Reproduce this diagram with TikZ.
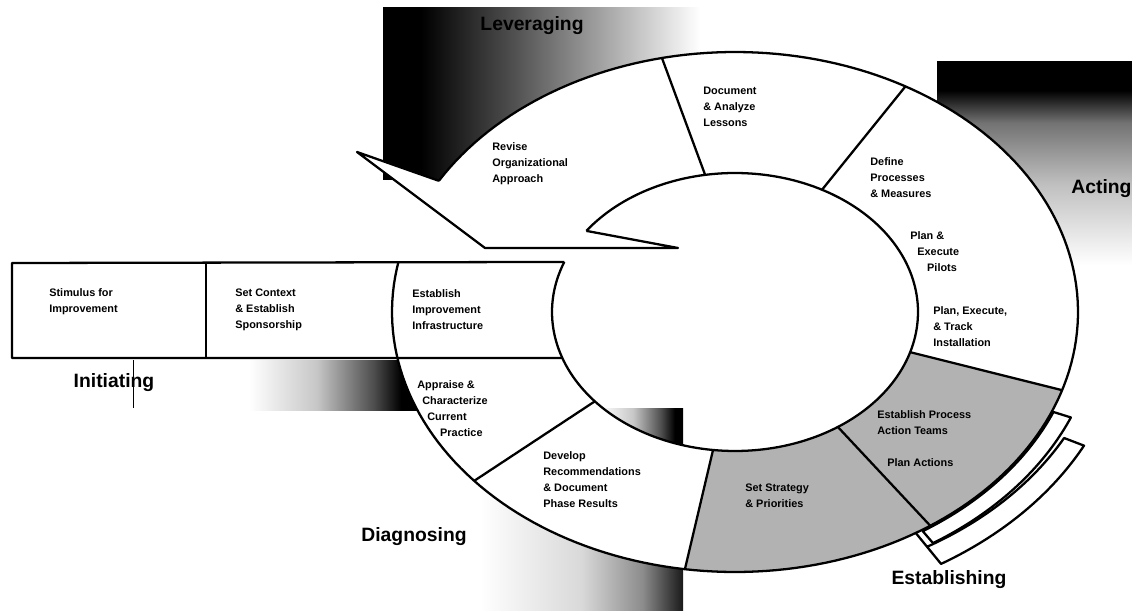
\documentclass[tikz,border=0pt]{standalone}
\usepackage{fontspec}
\setmainfont{Liberation Sans}
\usetikzlibrary{calc}
% halftone shadows behind the ring
\pgfdeclarehorizontalshading{levfade}{100bp}{color(0bp)=(black); color(31bp)=(black); color(45bp)=(black!70); color(60bp)=(black!35); color(75bp)=(white); color(100bp)=(white)}
\pgfdeclareverticalshading{actfade}{100bp}{color(0bp)=(white); color(25bp)=(white); color(45bp)=(black!25); color(60bp)=(black!55); color(68bp)=(black); color(100bp)=(black)}
\pgfdeclarehorizontalshading{darkright}{100bp}{color(0bp)=(white); color(25bp)=(white); color(45bp)=(black!22); color(62bp)=(black!70); color(70bp)=(black); color(100bp)=(black)}
\pgfdeclarehorizontalshading{softright}{100bp}{color(0bp)=(white); color(25bp)=(white); color(50bp)=(black!15); color(65bp)=(black!45); color(75bp)=(black!90); color(100bp)=(black!90)}

\begin{document}
\begin{tikzpicture}[x=0.02cm,y=-0.02cm]
\tikzset{
  ringline/.style={line width=1.3pt,line join=round},
  steptext/.style={font=\fontsize{6.2}{9.1}\selectfont\bfseries,align=left,anchor=west,inner sep=0pt},
  phase/.style={font=\fontsize{11}{13}\selectfont\bfseries,inner sep=0pt},
}
\useasboundingbox (0,0) rectangle (1132,611);

% points on the outer and inner ellipse
\foreach \n/\t in {barb/210.3,d1/257.7,d2/299.8,d3/17.5,d4/55.3,d5/98.4,d6/139.5,bb/169.8,bt/191.1}
  \coordinate (o-\n) at ({735+343*cos(\t)},{312+260*sin(\t)});
\foreach \n/\t in {notch/215.7,d1/260.6,d2/298.4,d3/16.8,d4/55.8,d5/96.9,d6/140,bb/160.7,bt/201.1}
  \coordinate (i-\n) at ({735+183*cos(\t)},{312+139*sin(\t)});
\coordinate (tip) at (357,152);
\coordinate (heel) at (485,248);
\coordinate (toe) at (678,248);

% shadows
\shade[shading=levfade] (383,8) rectangle (700,180);
\shade[shading=actfade] (937,62) rectangle (1132,265);
\shade[shading=darkright] (249,360) rectangle (418,410);
\shade[shading=softright] (480,465) rectangle (683,611);
\fill[white] plot[domain=0:360,samples=150] ({735+343*cos(\x)},{312+260*sin(\x)}) -- cycle;
\fill[white] (o-barb) -- (tip) -- (heel) -- (toe) -- (i-notch) -- cycle;
\begin{scope}
  \clip plot[domain=0:360,samples=150] ({735+183*cos(\x)},{312+139*sin(\x)}) -- cycle;
  \shade[shading=darkright] (600,408) rectangle (683,460);
\end{scope}

% Establishing sectors
\fill[black!30] plot[domain=17.5:98.4,samples=60] ({735+343*cos(\x)},{312+260*sin(\x)})
  -- plot[domain=96.9:16.8,samples=60] ({735+183*cos(\x)},{312+139*sin(\x)}) -- cycle;

% ring, arrow and bar
\draw[ringline] plot[domain=210.3:551.1,samples=200] ({735+343*cos(\x)},{312+260*sin(\x)});
\draw[ringline] plot[domain=215.7:561.1,samples=200] ({735+183*cos(\x)},{312+139*sin(\x)});
\draw[ringline] (o-barb) -- (tip) -- (heel) -- (toe) -- (i-notch);
\foreach \n in {d1,d2,d3,d4,d5,d6}
  \draw[ringline] (o-\n) -- (i-\n);
\coordinate (bar-tl) at (12,263);
\coordinate (bar-bl) at (12,358);
\coordinate (bar-tm) at (206,263);
\coordinate (bar-bm) at (206,358);
\draw[ringline] (i-bt) -- (bar-tl) -- (bar-bl) -- (i-bb);
\draw[ringline] (bar-tm) -- (bar-bm);
\draw[line width=0.5pt] (133,360) -- (133,408);

% Establishing brackets
\draw[ringline,fill=white] plot[domain=26.8:58.2,samples=40] ({735+343*1.14*cos(\x)},{312+260*1.14*sin(\x)})
  -- ({735+343*1.0*cos(58.2)},{312+260*1.0*sin(58.2)})
  -- plot[domain=58.2:26.8,samples=40] ({735+343*(1.075-0.0004*(\x-26.8))*cos(\x)},{312+260*(1.075-0.0004*(\x-26.8))*sin(\x)}) -- cycle;
\draw[ringline,fill=white] plot[domain=22.5:57,samples=40] ({735+343*1.06*cos(\x)},{312+260*1.06*sin(\x)})
  -- plot[domain=57:22.5,samples=40] ({735+343*1.005*cos(\x)},{312+260*1.005*sin(\x)}) -- cycle;

% step labels
\node[steptext] (stim) at (49,302) {Stimulus for\\Improvement};
\node[steptext] (ctx) at (235,310) {Set Context\\\& Establish\\Sponsorship};
\node[steptext] (infra) at (412,310) {Establish\\Improvement\\Infrastructure};
\node[steptext] (appr) at (417,409) {Appraise \&\\\hspace*{2.8pt}Characterize\\\hspace*{5.7pt}Current\\\hspace*{13pt}Practice};
\node[steptext] (recom) at (543,480) {Develop\\Recommendations\\\& Document\\Phase Results};
\node[steptext] (strat) at (745,496) {Set Strategy\\\& Priorities};
\node[steptext] (teams) at (877,423) {Establish Process\\Action Teams};
\node[steptext] (acts) at (887,463) {Plan Actions};
\node[steptext] (instal) at (933,327) {Plan, Execute,\\\& Track\\Installation};
\node[steptext] (pilot) at (910,252) {Plan \&\\\hspace*{4pt}Execute\\\hspace*{9.6pt}Pilots};
\node[steptext] (proc) at (870,178) {Define\\Processes\\\& Measures};
\node[steptext] (lesson) at (703,107) {Document\\\& Analyze\\Lessons};
\node[steptext] (revise) at (492,164) {Revise\\Organizational\\Approach};

% phase labels
\node[phase] (lev) at (532,26) {Leveraging};
\node[phase,anchor=west] (act) at (1071,189) {Acting};
\node[phase] (ini) at (114,383) {Initiating};
\node[phase] (dia) at (414,537) {Diagnosing};
\node[phase] (est) at (949,580) {Establishing};
\end{tikzpicture}
\end{document}
